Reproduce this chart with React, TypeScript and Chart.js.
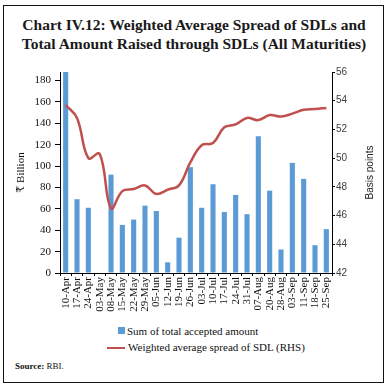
import React, { useEffect, useRef } from 'react';
import { Chart, registerables } from 'chart.js';

Chart.register(...registerables);

const labels = [
  '10-Apr', '17-Apr', '24-Apr', '03-May', '08-May', '15-May', '22-May', '29-May',
  '05-Jun', '12-Jun', '19-Jun', '26-Jun', '03-Jul', '10-Jul', '17-Jul', '24-Jul',
  '31-Jul', '07-Aug', '20-Aug', '28-Aug', '03-Sep', '11-Sep', '18-Sep', '25-Sep',
];

const amountRaised = [
  188, 69, 61, 0, 92, 45, 50, 63,
  58, 10, 33, 99, 61, 83, 57, 73,
  55, 128, 77, 22, 103, 88, 26, 41,
];

const weightedSpread = [
  53.7, 52.8, 50.0, 50.3, 46.5, 47.7, 47.85, 48.1,
  47.5, 47.8, 48.1, 49.7, 50.9, 51.05, 52.15, 52.35,
  52.8, 52.65, 53.0, 52.9, 53.1, 53.37, 53.42, 53.5,
];

const leftAxis = { min: 0, max: 188, step: 20 };
const rightAxis = { min: 42, max: 56, step: 2 };

const titleLines = [
  'Chart IV.12: Weighted Average Spread of SDLs and',
  'Total Amount Raised through SDLs (All Maturities)',
];
const seriesNames = ['Sum of total accepted amount', 'Weighted average spread of SDL (RHS)'];
const axisTitles = { left: '\u20B9 Billion', right: 'Basis points' };

const BAR_COLOR = '#5B9BD5';
const LINE_COLOR = '#C0504D';
const SERIF = '"Liberation Serif", "DejaVu Serif", serif';
const SANS = '"Liberation Sans", "DejaVu Sans", sans-serif';

const axisTitlePlugin = {
  id: 'axisTitlesCustom',
  afterDraw(chart: any) {
    const { ctx, chartArea } = chart;
    const midY = (chartArea.top + chartArea.bottom) / 2;
    ctx.save();
    ctx.textAlign = 'center';
    ctx.textBaseline = 'middle';
    ctx.translate(21, midY);
    ctx.rotate(-Math.PI / 2);
    ctx.fillStyle = '#111';
    ctx.font = `11px ${SERIF}`;
    ctx.fillText(axisTitles.left, 0, 0);
    ctx.restore();

    ctx.save();
    ctx.textAlign = 'center';
    ctx.textBaseline = 'middle';
    ctx.translate(370, midY);
    ctx.rotate(-Math.PI / 2);
    ctx.fillStyle = '#222';
    ctx.font = `10px ${SANS}`;
    ctx.fillText(axisTitles.right, 0, 0);
    ctx.restore();
  },
};

export default function App() {
  const canvasRef = useRef<HTMLCanvasElement | null>(null);

  useEffect(() => {
    if (!canvasRef.current) return;
    const chart = new Chart(canvasRef.current, {
      type: 'bar',
      data: {
        labels,
        datasets: [
          {
            type: 'line',
            label: seriesNames[1],
            data: weightedSpread,
            yAxisID: 'y1',
            borderColor: LINE_COLOR,
            backgroundColor: LINE_COLOR,
            borderWidth: 2.5,
            pointRadius: 0,
            tension: 0.4,
            order: 0,
          } as any,
          {
            type: 'bar',
            label: seriesNames[0],
            data: amountRaised,
            yAxisID: 'y',
            backgroundColor: BAR_COLOR,
            borderWidth: 0,
            barPercentage: 0.45,
            categoryPercentage: 1,
            order: 1,
          },
        ],
      },
      options: {
        responsive: false,
        animation: false,
        layout: { padding: { top: 72, left: 0, right: 0, bottom: 0 } },
        plugins: {
          legend: { display: false },
          title: { display: false },
          tooltip: { enabled: false },
        },
        scales: {
          x: {
            offset: true,
            grid: { display: true, drawOnChartArea: false, drawTicks: true, tickLength: 3, color: '#000', offset: true },
            border: { display: true, color: '#000', width: 1 },
            ticks: {
              autoSkip: false,
              maxRotation: 90,
              minRotation: 90,
              padding: 1,
              color: '#111',
              font: { family: SERIF, size: 11 },
            },
            afterFit(scale: any) { scale.height = 47; },
          },
          y: {
            position: 'left',
            min: leftAxis.min,
            max: leftAxis.max,
            grid: { display: true, drawOnChartArea: false, drawTicks: true, tickLength: 5, color: '#000' },
            border: { display: true, color: '#000', width: 1 },
            ticks: {
              stepSize: leftAxis.step,
              includeBounds: false,
              padding: 4,
              color: '#111',
              font: { family: SERIF, size: 11 },
            },
            afterFit(scale: any) { scale.width = 60; },
          },
          y1: {
            position: 'right',
            min: rightAxis.min,
            max: rightAxis.max,
            grid: { display: true, drawOnChartArea: false, drawTicks: true, tickLength: 3, color: '#000' },
            border: { display: true, color: '#000', width: 1 },
            ticks: {
              stepSize: rightAxis.step,
              padding: 1,
              color: '#404040',
              font: { family: SANS, size: 10 },
            },
            afterFit(scale: any) { scale.width = 56; },
          },
        },
      },
      plugins: [axisTitlePlugin],
    });
    return () => chart.destroy();
  }, []);

  return (
    <div style={{ position: 'absolute', left: 0, top: 0, width: 388, height: 390, background: '#fff', overflow: 'hidden' }}>
      <div style={{ position: 'absolute', left: 3, top: 5, width: 381, height: 378, boxSizing: 'border-box', border: '1.5px solid #111' }} />
      <div style={{ position: 'absolute', left: 0, top: 15, width: 388, textAlign: 'center', fontFamily: SERIF, fontWeight: 'bold', fontSize: 15.5, lineHeight: '19px', color: '#1a1a1a', whiteSpace: 'nowrap' }}>
        {titleLines.map((t, i) => <div key={i}>{t}</div>)}
      </div>
      <canvas ref={canvasRef} width={388} height={320} style={{ position: 'absolute', left: 0, top: 0, width: 388, height: 320 }} />
      <div style={{ position: 'absolute', left: 118, top: 323, fontFamily: SERIF, fontSize: 11, color: '#111', lineHeight: '16px', whiteSpace: 'nowrap' }}>
        <div style={{ position: 'relative', height: 16 }}>
          <span style={{ position: 'absolute', left: 0, top: 4, width: 7, height: 7, background: BAR_COLOR }} />
          <span style={{ position: 'absolute', left: 9 }}>{seriesNames[0]}</span>
        </div>
        <div style={{ position: 'relative', height: 16 }}>
          <span style={{ position: 'absolute', left: -11, top: 8, width: 18, height: 2, background: LINE_COLOR }} />
          <span style={{ position: 'absolute', left: 10 }}>{seriesNames[1]}</span>
        </div>
      </div>
      <div style={{ position: 'absolute', left: 15, top: 361, fontFamily: SERIF, fontSize: 9, color: '#111', whiteSpace: 'nowrap' }}>
        <b>Source:</b> RBI.
      </div>
    </div>
  );
}
